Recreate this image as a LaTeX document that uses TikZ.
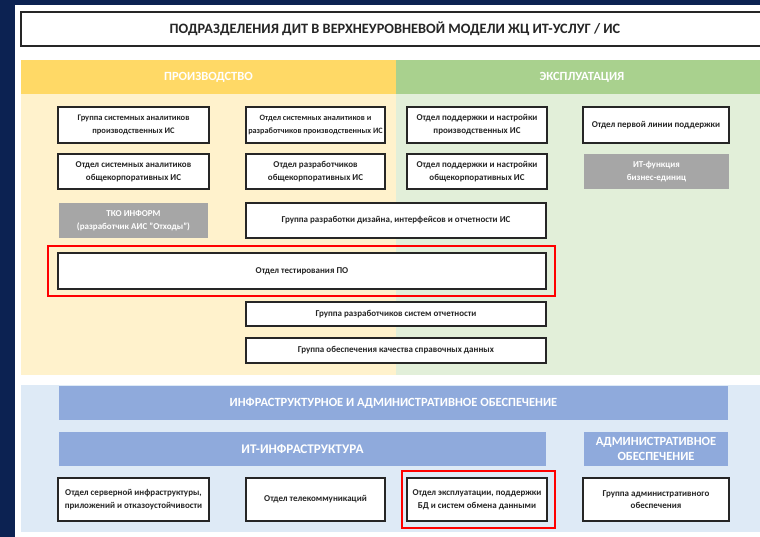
\documentclass[tikz,border=0pt]{standalone}
\usepackage{fontspec}
\setmainfont{Carlito}
\definecolor{navy}{HTML}{0C2252}
\definecolor{yhead}{HTML}{FFD966}
\definecolor{ybody}{HTML}{FFF2CC}
\definecolor{ghead}{HTML}{A9D18E}
\definecolor{gbody}{HTML}{E2EFD9}
\definecolor{bbody}{HTML}{DEEAF6}
\definecolor{bhead}{HTML}{8FAADC}
\definecolor{greybox}{HTML}{A6A6A6}
\definecolor{boxline}{HTML}{262626}
\tikzset{
  area/.style={draw=none, anchor=north west, inner sep=0pt, outer sep=0pt},
  box/.style={draw=boxline, line width=1.5pt, fill=white, anchor=north west, inner sep=1pt, outer sep=0pt,
    align=center, text=boxline, font=\bfseries\fontsize{9}{12.7}\selectfont},
  greyfn/.style={fill=greybox, draw=none, anchor=north west, inner sep=1pt, outer sep=0pt,
    align=center, text=white, font=\bfseries\fontsize{9}{12.7}\selectfont},
  headtxt/.style={text=white, font=\bfseries\fontsize{12.5}{15}\selectfont, align=center},
  redframe/.style={draw=red, line width=2pt, fill=none, anchor=north west, inner sep=0pt, outer sep=0pt},
}
\begin{document}
\begin{tikzpicture}[x=1pt,y=-1pt]
\useasboundingbox (0,0) rectangle (760,537);
\clip (0,0) rectangle (760,537);
% background
\fill[navy] (0,0) rectangle (760,537);
\fill[white] (15,5) rectangle (770,540);
% title
\node[box, line width=1.6pt, minimum width=748pt, minimum height=34pt, font=\bfseries\fontsize{14.3}{17}\selectfont] (title) at (21,12)
  {ПОДРАЗДЕЛЕНИЯ ДИТ В ВЕРХНЕУРОВНЕВОЙ МОДЕЛИ ЖЦ ИТ-УСЛУГ / ИС};
% areas
\node[area, fill=ybody, minimum width=375pt, minimum height=281pt] (prodbody) at (21,94) {};
\node[area, fill=gbody, minimum width=372pt, minimum height=281pt] (expbody) at (396,94) {};
\node[area, fill=yhead, minimum width=375pt, minimum height=34pt, headtxt] (prodhead) at (21,60) {ПРОИЗВОДСТВО};
\node[area, fill=ghead, minimum width=372pt, minimum height=34pt, headtxt] (exphead) at (396,60) {ЭКСПЛУАТАЦИЯ};
\node[area, fill=bbody, minimum width=747pt, minimum height=147pt] (infrabody) at (21,385) {};
\node[area, fill=bhead, minimum width=669pt, minimum height=34pt, headtxt] (infrahead) at (59,386) {ИНФРАСТРУКТУРНОЕ И АДМИНИСТРАТИВНОЕ ОБЕСПЕЧЕНИЕ};
\node[area, fill=bhead, minimum width=487pt, minimum height=34pt, headtxt, font=\bfseries\fontsize{13.2}{15}\selectfont] (ithead) at (59,432) {ИТ-ИНФРАСТРУКТУРА};
\node[area, fill=bhead, minimum width=144pt, minimum height=34pt, headtxt, font=\bfseries\fontsize{12.5}{15.5}\selectfont] (admhead) at (584,432) {АДМИНИСТРАТИВНОЕ\\ОБЕСПЕЧЕНИЕ};
% production boxes
\node[box, minimum width=151pt, minimum height=36pt, font=\bfseries\fontsize{8.5}{12.7}\selectfont] (p11) at (58,107) {Группа системных аналитиков\\производственных ИС};
\node[box, minimum width=139pt, minimum height=36pt, font=\bfseries\fontsize{8.2}{12.7}\selectfont] (p12) at (246,107) {Отдел системных аналитиков и\\разработчиков производственных ИС};
\node[box, minimum width=151pt, minimum height=35pt] (p21) at (58,154) {Отдел системных аналитиков\\общекорпоративных ИС};
\node[box, minimum width=139pt, minimum height=35pt] (p22) at (246,154) {Отдел разработчиков\\общекорпоративных ИС};
\node[greyfn, minimum width=149pt, minimum height=35pt] (tko) at (59,203) {ТКО ИНФОРМ\\(разработчик АИС "Отходы")};
\node[box, minimum width=300pt, minimum height=35pt] (design) at (246,203) {Группа разработки дизайна, интерфейсов и отчетности ИС};
\node[box, minimum width=488pt, minimum height=36pt] (test) at (58,253) {Отдел тестирования ПО};
\node[redframe, minimum width=507pt, minimum height=50pt] (testred) at (48,246) {};
\node[box, minimum width=300pt, minimum height=24pt] (report) at (246,302) {Группа разработчиков систем отчетности};
\node[box, minimum width=300pt, minimum height=25pt] (quality) at (246,338) {Группа обеспечения качества справочных данных};
% exploitation boxes
\node[box, minimum width=140pt, minimum height=36pt] (e11) at (407,107) {Отдел поддержки и настройки\\производственных ИС};
\node[box, minimum width=146pt, minimum height=36pt] (e12) at (583,107) {Отдел первой линии поддержки};
\node[box, minimum width=140pt, minimum height=35pt] (e21) at (407,154) {Отдел поддержки и настройки\\общекорпоративных ИС};
\node[greyfn, minimum width=145pt, minimum height=35pt] (itfn) at (584,154) {ИТ-функция\\бизнес-единиц};
% infrastructure boxes
\node[box, minimum width=151pt, minimum height=43pt] (i1) at (58,478) {Отдел серверной инфраструктуры,\\приложений и отказоустойчивости};
\node[box, minimum width=139pt, minimum height=43pt] (i2) at (246,478) {Отдел телекоммуникаций};
\node[box, minimum width=140pt, minimum height=43pt] (i3) at (407,478) {Отдел эксплуатации, поддержки\\БД и систем обмена данными};
\node[redframe, minimum width=153pt, minimum height=57pt] (i3red) at (402,471) {};
\node[box, minimum width=146pt, minimum height=43pt] (i4) at (583,478) {Группа административного\\обеспечения};
\end{tikzpicture}
\end{document}
